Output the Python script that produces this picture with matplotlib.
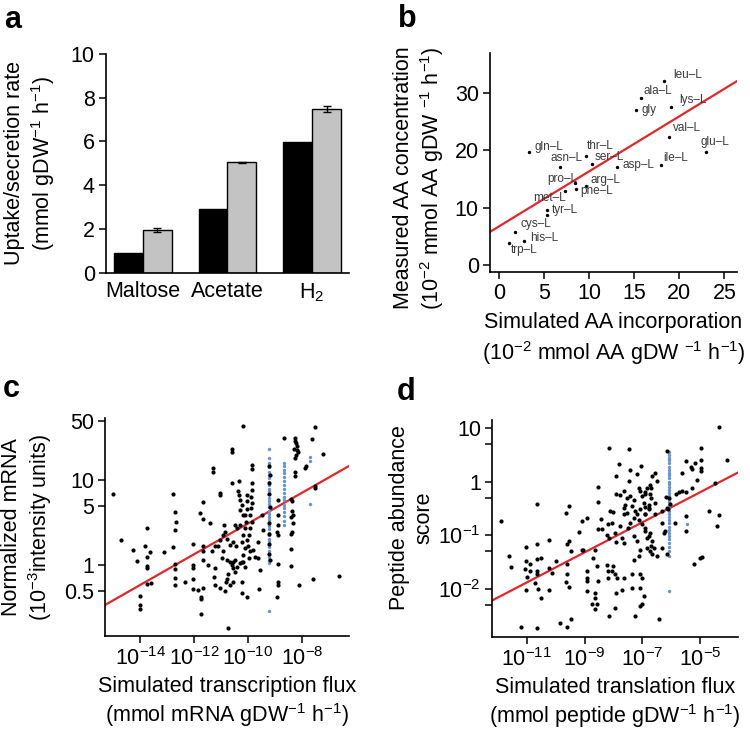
import numpy as np
import matplotlib
matplotlib.use("Agg")
import matplotlib.pyplot as plt

plt.rcParams['font.family'] = ['Liberation Sans', 'DejaVu Sans']
plt.rcParams['mathtext.fontset'] = 'custom'
plt.rcParams['mathtext.rm'] = 'Liberation Sans'
plt.rcParams['mathtext.it'] = 'Liberation Sans:italic'
plt.rcParams['mathtext.default'] = 'regular'

# panel a: uptake / secretion rates
categories = ["Maltose", "Acetate", "H$_2$"]
simulated = [0.9, 2.9, 5.97]
measured = [1.97, 5.05, 7.48]
measured_err = [0.08, 0.03, 0.15]

# panel b: amino acids (simulated incorporation, measured concentration)
aa_names = ["leu–L", "ala–L", "gly", "lys–L", "val–L", "glu–L", "ile–L", "asp–L",
            "gln–L", "asn–L", "thr–L", "ser–L", "pro–L", "arg–L", "phe–L", "met–L",
            "tyr–L", "", "cys–L", "his–L", "trp–L"]
aa_sim = [18.3, 15.7, 15.2, 19.1, 18.9, 23.0, 18.0, 13.1, 3.3, 6.8, 9.6, 10.3,
          8.4, 9.7, 8.5, 7.3, 5.3, 5.3, 1.8, 2.8, 1.15]
aa_meas = [32.1, 29.2, 27.0, 27.6, 22.4, 19.7, 17.5, 17.1, 19.7, 17.1, 19.1, 17.6,
           14.3, 13.8, 13.3, 12.9, 9.7, 8.8, 5.8, 4.2, 3.8]
b_fit_x = [-1.0, 26.4]
b_fit_y = [5.8, 32.1]

# panel c: log10(transcription flux), log10(normalized mRNA)
c_black = [
    (-14.99, 0.83), (-14.70, 0.29), (-14.27, 0.18), (-14.10, 0.05), (-13.73, 0.43), (-13.80, 0.22),
    (-13.63, 0.15), (-13.75, 0.09), (-13.75, -0.01), (-13.75, -0.04), (-13.73, -0.22), (-13.60, -0.21),
    (-14.0, -0.36), (-14.0, -0.47), (-14.0, -0.52), (-13.1, 0.15), (-12.77, 0.83), (-12.70, 0.62),
    (-12.67, 0.51), (-12.70, 0.41), (-12.77, 0.21), (-12.70, 0.01), (-12.70, -0.05), (-12.70, -0.15),
    (-12.70, -0.24), (-12.33, -0.20), (-12.03, 0.25), (-12.05, 0.0), (-12.05, -0.03), (-12.05, -0.16),
    (-12.05, -0.28), (-11.86, -0.29), (-11.75, -0.38), (-11.75, -0.40), (-11.74, -0.57), (-11.68, 0.74),
    (-11.78, 0.61), (-11.66, 0.54), (-11.66, 0.22), (-11.66, 0.17), (-11.66, 0.06), (-11.66, -0.27),
    (-10.20, 1.64), (-10.61, 1.36), (-10.61, 1.33), (-11.29, 1.14), (-11.29, 1.09), (-11.04, 0.85),
    (-11.04, 0.82), (-10.58, 0.96), (-10.32, 0.99), (-10.36, 0.87), (-10.32, 0.82), (-10.30, 0.77),
    (-10.24, 0.71), (-10.30, 0.65), (-10.20, 0.59), (-9.87, 1.18), (-9.87, 1.13), (-9.87, 0.96),
    (-9.84, 0.88), (-9.90, 0.80), (-9.87, 0.73), (-9.90, 0.67), (-9.93, 0.59), (-9.87, 0.51),
    (-9.93, 0.43), (-9.95, 0.35), (-10.05, 0.29), (-9.99, 0.22), (-9.93, 0.16), (-9.95, 0.08),
    (-10.05, 0.82), (-10.05, 0.75), (-10.03, 0.66), (-10.11, 0.59), (-10.08, 0.51), (-10.11, 0.43),
    (-10.17, 0.35), (-10.24, 0.27), (-10.11, 0.20), (-10.17, 0.12), (-10.20, 0.04), (-10.11, -0.02),
    (-10.88, 0.47), (-10.85, 0.39), (-10.92, 0.35), (-10.79, 0.31), (-11.04, 0.29), (-11.10, 0.22),
    (-11.22, 0.22), (-10.92, 0.16), (-10.98, 0.08), (-10.79, 0.06), (-10.67, 0.04), (-10.55, 0.04),
    (-10.48, 0.06), (-10.61, 0.0), (-10.55, -0.04), (-10.42, -0.02), (-10.30, 0.02), (-10.24, 0.04),
    (-10.48, -0.08), (-10.73, -0.10), (-10.79, -0.16), (-10.82, -0.20), (-10.55, -0.20), (-10.24, -0.20),
    (-11.22, -0.04), (-11.26, -0.14), (-11.22, -0.24), (-11.04, -0.27), (-10.85, -0.31), (-10.67, -0.24),
    (-10.24, -0.33), (-10.02, -0.38), (-9.58, -0.28), (-9.56, -0.06), (-9.62, 0.08), (-9.62, 0.27),
    (-9.43, 0.41), (-9.50, 0.59), (-9.74, 0.10), (-9.80, 0.18), (-10.48, 0.47), (-10.42, 0.43),
    (-10.30, 0.47), (-10.55, 0.27), (-10.45, 0.22), (-10.67, 0.24), (-11.41, 0.49), (-11.35, 0.16),
    (-11.47, 0.0), (-10.76, -0.74),
    (-7.52, 1.62), (-8.67, 1.49), (-8.26, 1.50), (-8.26, 1.46), (-8.22, 1.43), (-8.20, 1.40),
    (-8.30, 1.37), (-8.20, 1.35), (-8.14, 1.33), (-8.26, 1.26), (-8.22, 1.30), (-7.64, 1.48),
    (-7.21, 1.31), (-7.85, 1.16), (-7.89, 1.14), (-8.26, 1.10), (-8.26, 1.05), (-7.52, 0.93),
    (-7.52, 0.91), (-8.42, 0.78), (-8.38, 0.75), (-8.88, 0.77), (-8.38, 0.63), (-8.35, 0.59),
    (-8.42, 0.57), (-8.88, 0.59), (-8.88, 0.47), (-8.35, 0.49), (-8.91, 0.385), (-8.88, 0.355),
    (-8.38, 0.39), (-8.41, 0.36), (-8.42, 0.185), (-8.88, 0.01), (-8.41, -0.01), (-8.88, -0.20),
    (-8.88, -0.24), (-8.10, -0.23), (-7.58, -0.16), (-6.62, -0.13), (-8.91, -0.37),
    (-9.24, 1.16), (-9.20, 1.06), (-9.24, 0.96), (-9.22, 0.84), (-9.20, 0.685), (-9.24, 0.49),
    (-9.22, 0.37), (-9.22, 0.25), (-9.24, 0.135), (-9.20, 0.06),
]
c_blue_x = [-9.22] * 35 + [-8.67] * 17 + [-7.72] * 3
c_blue_y = [0.02, 0.06, 0.10, 0.13, 0.17, 0.21, 0.24, 0.28, 0.31, 0.35, 0.38, 0.42,
            0.46, 0.50, 0.53, 0.57, 0.60, 0.64, 0.68, 0.72, 0.75, 0.79, 0.83, 0.87,
            0.90, 0.94, 0.98, 1.02, 1.06, 1.10, 1.15, 1.20, 1.26, 1.37, -0.54,
            0.47, 0.52, 0.58, 0.62, 0.67, 0.71, 0.76, 0.80, 0.85, 0.90, 0.94, 0.99,
            1.03, 1.08, 1.12, 1.16, 1.20,
            1.27, 1.22, 0.72]
c_fit_x = [-15.3, -6.26]
c_fit_y = [-0.47, 1.165]

# panel d: log10(translation flux), log10(peptide abundance score)
d_black = [
    (-11.90, -0.73), (-11.61, -1.39), (-11.53, -1.59), (-11.01, -1.22), (-11.01, -1.48), (-10.90, -1.53),
    (-11.07, -1.64), (-10.90, -1.66), (-10.99, -1.78), (-11.01, -2.03), (-10.64, -0.42), (-10.64, -1.17),
    (-10.64, -1.45), (-10.49, -1.42), (-10.66, -1.67), (-10.64, -1.72), (-10.70, -1.90), (-10.61, -2.01),
    (-10.51, -2.17), (-10.22, -1.09), (-10.22, -1.61), (-10.14, -1.70), (-10.24, -2.03), (-9.97, -1.48),
    (-9.64, -0.58), (-9.55, -0.45), (-9.55, -1.10), (-9.60, -1.17), (-9.47, -1.30), (-9.60, -1.53),
    (-9.60, -1.73), (-9.64, -1.87), (-9.55, -1.96), (-9.10, -0.74), (-9.18, -0.94), (-9.10, -1.28),
    (-11.19, -2.72), (-10.63, -2.74), (-9.85, -2.63), (-9.60, -2.71), (-9.48, -2.57),
    (-8.15, 0.63), (-7.45, 0.61), (-7.82, 0.33), (-7.92, 0.10), (-7.44, 0.22), (-7.05, 0.30),
    (-7.19, 0.14), (-7.45, 0.01), (-8.52, -0.10), (-7.92, -0.24), (-7.77, -0.25), (-8.55, -0.38),
    (-8.92, -0.68), (-8.44, -0.69), (-8.11, -0.55), (-8.03, -0.57), (-8.17, -0.80), (-8.06, -0.77),
    (-8.52, -0.88), (-8.40, -0.89), (-8.23, -1.0), (-8.15, -1.05), (-7.94, -0.96), (-7.90, -1.13),
    (-7.71, -1.05), (-7.65, -0.61), (-7.53, -0.58), (-7.65, -0.49), (-7.59, -0.43), (-7.53, -0.30),
    (-7.42, -0.27), (-7.30, -0.34), (-7.36, -0.46), (-7.24, -0.55), (-7.19, -0.61), (-7.30, -0.68),
    (-7.42, -0.77), (-7.13, -0.12), (-7.07, -0.18), (-7.01, -0.27), (-6.90, -0.24), (-6.95, -0.40),
    (-7.07, -0.52), (-7.13, -0.71), (-7.01, -0.80), (-6.90, -0.92), (-6.84, -1.05), (-6.90, -0.61),
    (-6.78, -0.49), (-6.84, -0.12), (-6.72, -0.24), (-7.65, -0.18), (-7.77, -0.83), (-7.48, -0.86),
    (-7.30, -1.02), (-7.19, -1.11), (-7.65, -1.14), (-7.07, -1.27), (-7.28, -1.47), (-7.13, -1.39),
    (-8.64, -1.28), (-8.69, -1.42), (-8.92, -1.67), (-8.92, -1.79), (-8.92, -1.86), (-8.58, -1.58),
    (-8.52, -1.86), (-8.21, -1.55), (-8.17, -1.67), (-8.06, -1.67), (-8.0, -1.58), (-7.94, -1.73),
    (-7.88, -1.79), (-7.65, -1.79), (-7.36, -1.72), (-7.07, -1.72), (-7.01, -1.79), (-8.17, -1.79),
    (-8.92, -2.04), (-8.64, -2.07), (-8.64, -2.17), (-8.58, -2.28), (-8.75, -2.28), (-8.64, -2.38),
    (-8.14, -2.51), (-7.94, -2.35), (-7.90, -2.07), (-7.71, -2.03), (-7.36, -1.99), (-7.09, -1.98),
    (-6.95, -2.14), (-7.07, -2.32), (-7.01, -2.29), (-7.27, -2.51), (-9.04, -1.27),
    (-4.35, 1.02), (-4.98, 0.63), (-6.14, 0.58), (-5.50, 0.38), (-5.18, 0.35), (-4.98, 0.41),
    (-4.06, 0.40), (-5.30, 0.27), (-5.27, 0.24), (-4.98, 0.25), (-4.98, 0.20), (-5.62, 0.16),
    (-5.10, 0.025), (-6.66, 0.11), (-6.55, 0.17), (-6.49, 0.01), (-6.72, -0.06), (-6.69, -0.12),
    (-6.90, -0.19), (-6.69, -0.30), (-6.57, -0.40), (-6.78, -0.43), (-6.90, -0.48), (-6.78, -0.52),
    (-6.55, -0.60), (-6.32, -0.55), (-6.18, -0.29), (-6.08, -0.30), (-6.03, -0.42), (-6.14, -0.49),
    (-6.10, -0.51), (-5.85, -0.24), (-5.74, -0.19), (-5.62, -0.18), (-5.50, -0.20), (-5.27, -0.12),
    (-4.48, -0.02), (-4.69, -0.55), (-4.35, -0.63), (-4.40, -0.83), (-5.50, -0.65), (-5.50, -0.92),
    (-5.88, -0.78), (-6.32, -0.77), (-6.20, -0.92), (-6.26, -0.95), (-6.72, -0.96), (-6.78, -1.02),
    (-6.66, -1.11), (-6.69, -1.20), (-6.61, -1.24), (-6.84, -1.24), (-6.72, -1.30), (-6.66, -1.35),
    (-6.49, -1.39), (-6.32, -1.24), (-6.14, -1.36), (-6.90, -0.61), (-6.90, -0.86), (-5.22, -1.53),
    (-5.02, -1.43), (-4.95, -1.41), (-6.43, -2.57),
]
d_blue_x = [-6.08] * 35 + [-5.47]
d_blue_y = [0.56, 0.50, 0.45, 0.40, 0.34, 0.28, 0.22, 0.17, 0.12, 0.06, 0.0, -0.05,
            -0.10, -0.16, -0.22, -0.27, -0.33, -0.38, -0.44, -0.50, -0.55, -0.60, -0.66,
            -0.72, -0.78, -0.84, -0.90, -0.96, -1.02, -1.08, -1.15, -1.22, -1.30, -1.39,
            -2.04, -0.80]
d_fit_x = [-12.2, -3.69]
d_fit_y = [-2.22, 0.17]

# label offsets for panel b (pixels, alignment)
aa_offsets = {
    "leu–L": (9, 6, "left"), "ala–L": (3, 7, "left"), "gly": (5, 0, "left"),
    "lys–L": (8, 7, "left"), "val–L": (4, 9, "left"), "glu–L": (-6, 10, "left"),
    "ile–L": (2, 7, "left"), "asp–L": (5, 2, "left"), "gln–L": (6, 5, "left"),
    "asn–L": (22, 9, "right"), "thr–L": (1, 10, "left"), "ser–L": (3, 7, "left"),
    "pro–L": (3, 4, "right"), "arg–L": (4, 6, "left"), "phe–L": (5, -2, "left"),
    "met–L": (1, -7, "right"), "tyr–L": (5, 0, "left"), "": (0, 0, "left"),
    "cys–L": (5, 8, "left"), "his–L": (6, 3, "left"), "trp–L": (1, -7, "left"),
}

FS = 15.5
red = "#e3262a"
blue = "#6593d6"
gray_bar = "#c3c3c3"


def style(ax):
    for s in ["top", "right"]:
        ax.spines[s].set_visible(False)
    for s in ["left", "bottom"]:
        ax.spines[s].set_linewidth(1.2)
    ax.tick_params(direction="out", length=5, width=1.1, labelsize=FS, pad=3)
    ax.tick_params(which="minor", direction="out", length=5, width=1.1)


fig = plt.figure(figsize=(7.5, 7.32), dpi=100)

# ---- a ----
ax = fig.add_axes([0.1413, 0.627, 0.324, 0.2995])
x = np.arange(len(categories))
w = 0.34
ax.bar(x - w / 2, simulated, w, color="black", edgecolor="black", linewidth=1)
ax.bar(x + w / 2, measured, w, color=gray_bar, edgecolor="black", linewidth=1,
       yerr=measured_err, capsize=3, error_kw=dict(elinewidth=1, capthick=1))
ax.set_xlim(-0.435, 2.435)
ax.set_ylim(0, 10)
ax.set_yticks([0, 2, 4, 6, 8, 10])
ax.set_xticks(x)
ax.set_xticklabels(categories)
style(ax)
ax.tick_params(axis="x", length=0, pad=6)
ax.set_ylabel("Uptake/secretion rate\n(mmol gDW$^{-1}$ h$^{-1}$)", fontsize=FS,
              linespacing=1.2, labelpad=10)

# ---- b ----
ax = fig.add_axes([0.6533, 0.6284, 0.3294, 0.2992])
ax.plot(b_fit_x, b_fit_y, color=red, lw=1.6, zorder=1)
ax.scatter(aa_sim, aa_meas, s=6, color="black", linewidths=0, zorder=2)
for name, xs, ys in zip(aa_names, aa_sim, aa_meas):
    dx, dy, ha = aa_offsets[name]
    ax.annotate(name, (xs, ys), xytext=(dx, dy), textcoords="offset pixels",
                fontsize=8.5, color="#3a3a3a", ha=ha, va="center")
ax.set_xlim(-1, 26.4)
ax.set_ylim(-1.2, 37)
ax.set_xticks([0, 5, 10, 15, 20, 25])
ax.set_yticks([0, 10, 20, 30])
style(ax)
ax.set_xlabel("Simulated AA incorporation\n(10$^{-2}$ mmol AA gDW $^{-1}$ h$^{-1}$)",
              fontsize=FS, linespacing=1.25, labelpad=6)
ax.set_ylabel("Measured AA concentration\n(10$^{-2}$ mmol AA gDW $^{-1}$ h$^{-1}$)",
              fontsize=FS, linespacing=1.2, labelpad=6)
ax.yaxis.label.set_y(0.43)

# ---- c ----
ax = fig.add_axes([0.14, 0.1311, 0.3253, 0.2979])
cb = np.array(c_black)
ax.plot(10.0 ** np.array(c_fit_x), 10.0 ** np.array(c_fit_y), color=red, lw=1.6, zorder=1)
ax.scatter(10.0 ** np.array(c_blue_x), 10.0 ** np.array(c_blue_y), s=6, color=blue,
           linewidths=0, zorder=2)
ax.scatter(10.0 ** cb[:, 0], 10.0 ** cb[:, 1], s=9, color="black", linewidths=0, zorder=3)
ax.set_xscale("log")
ax.set_yscale("log")
ax.set_xlim(10 ** -15.3, 10 ** -6.26)
ax.set_ylim(10 ** -0.835, 10 ** 1.73)
ax.set_xticks([1e-14, 1e-12, 1e-10, 1e-8])
ax.set_xticklabels(["10$^{-14}$", "10$^{-12}$", "10$^{-10}$", "10$^{-8}$"])
ax.set_yticks([0.5, 1, 5, 10, 50])
ax.set_yticklabels(["0.5", "1", "5", "10", "50"])
ax.minorticks_off()
style(ax)
ax.set_xlabel("Simulated transcription flux\n(mmol mRNA gDW$^{-1}$ h$^{-1}$)",
              fontsize=FS, linespacing=1.2, labelpad=4)
ax.set_ylabel("Normalized mRNA\n(10$^{-3}$intensity units)", fontsize=FS,
              linespacing=1.2, labelpad=7)

# ---- d ----
ax = fig.add_axes([0.656, 0.1298, 0.328, 0.2964])
db = np.array(d_black)
ax.plot(10.0 ** np.array(d_fit_x), 10.0 ** np.array(d_fit_y), color=red, lw=1.6, zorder=1)
ax.scatter(10.0 ** np.array(d_blue_x), 10.0 ** np.array(d_blue_y), s=6, color=blue,
           linewidths=0, zorder=2)
ax.scatter(10.0 ** db[:, 0], 10.0 ** db[:, 1], s=9, color="black", linewidths=0, zorder=3)
ax.set_xscale("log")
ax.set_yscale("log")
ax.set_xlim(10 ** -12.2, 10 ** -3.69)
ax.set_ylim(10 ** -2.9, 10 ** 1.15)
ax.set_xticks([1e-11, 1e-9, 1e-7, 1e-5])
ax.set_xticklabels(["10$^{-11}$", "10$^{-9}$", "10$^{-7}$", "10$^{-5}$"])
ax.set_yticks([1e-2, 1e-1, 1, 10])
ax.set_yticklabels(["10$^{-2}$", "10$^{-1}$", "1", "10"])
ax.set_yticks([0.005, 0.05, 0.5, 5], minor=True)
ax.set_yticklabels([], minor=True)
ax.xaxis.set_minor_locator(matplotlib.ticker.NullLocator())
style(ax)
ax.set_xlabel("Simulated translation flux\n(mmol peptide gDW$^{-1}$ h$^{-1}$)",
              fontsize=FS, linespacing=1.2, labelpad=4)
ax.set_ylabel("Peptide abundance\nscore", fontsize=FS, linespacing=1.2, labelpad=3)
ax.yaxis.label.set_y(0.55)

# panel letters
for letter, px, py in [("a", 4, 28), ("b", 398, 27), ("c", 3, 397), ("d", 397, 400)]:
    fig.text(px / 750, 1 - py / 732, letter, fontsize=22, fontweight="bold",
             ha="left", va="baseline")

fig.savefig("out.png", dpi=100)
